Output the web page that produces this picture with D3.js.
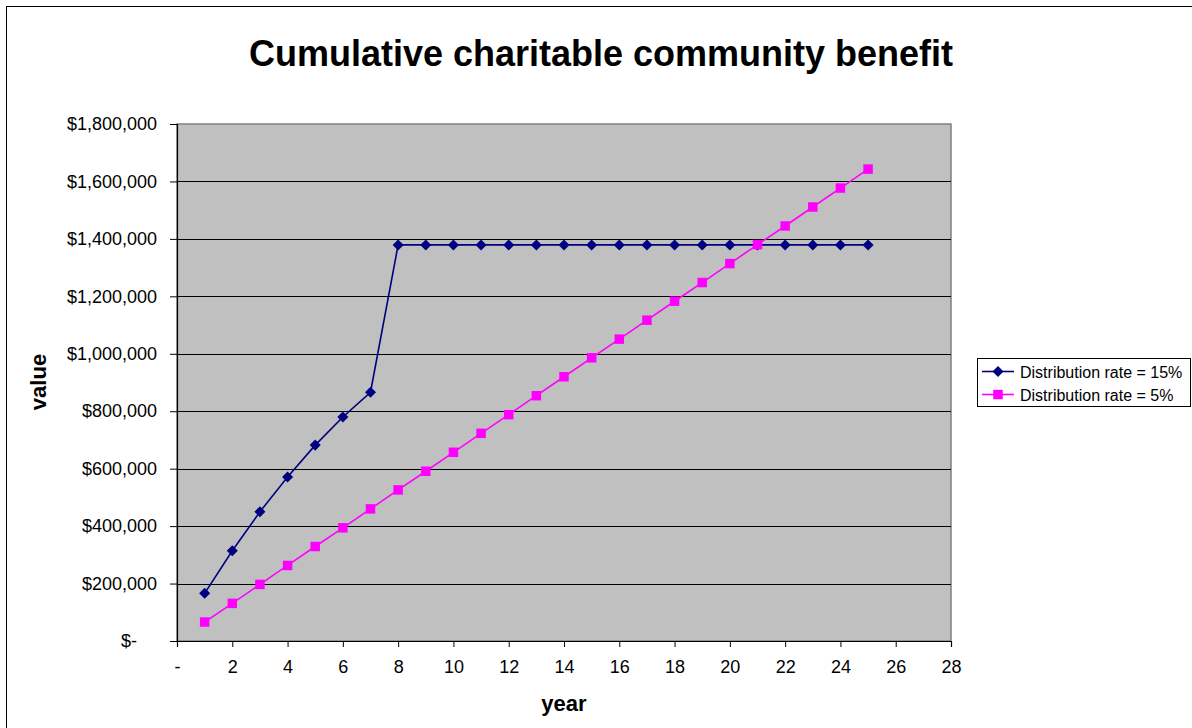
<!DOCTYPE html>
<html>
<head>
<meta charset="utf-8">
<script src="https://cdn.jsdelivr.net/npm/d3@7"></script>
<style>
  html, body { margin: 0; padding: 0; background: #fff; }
  svg { display: block; font-family: "Liberation Sans", Arial, sans-serif; }
</style>
</head>
<body>
<svg id="chart" width="1192" height="728"></svg>
<script>
// Years on the horizontal axis
const years = d3.range(1, 26);
// Cumulative benefit, distribution rate 15%
const rate15 = [166000, 314000, 450000, 571000, 682000, 780000, 866000,
  1379000, 1379000, 1379000, 1379000, 1379000, 1379000, 1379000, 1379000,
  1379000, 1379000, 1379000, 1379000, 1379000, 1379000, 1379000, 1379000,
  1379000, 1379000];
// Cumulative benefit, distribution rate 5%
const rate5 = [66000, 131000, 197000, 263000, 329000, 394000, 460000, 526000,
  591000, 657000, 723000, 788000, 854000, 920000, 986000, 1051000, 1117000,
  1183000, 1248000, 1314000, 1380000, 1445000, 1511000, 1577000, 1643000];
const seriesNames = ["Distribution rate = 15%", "Distribution rate = 5%"];
const xTicks = d3.range(0, 29, 2);
const yTicks = d3.range(0, 1800001, 200000);

const svg = d3.select("#chart");
const plot = { left: 177, top: 124, right: 951, bottom: 641 };
const FONT = "Liberation Sans, Arial, sans-serif";

const x = d3.scaleLinear().domain([0, 28]).range([plot.left, plot.right]);
const y = d3.scaleLinear().domain([0, 1800000]).range([plot.bottom, plot.top]);

// Outer chart frame
svg.append("rect")
  .attr("x", 6.5).attr("y", 6.5).attr("width", 1300).attr("height", 800)
  .attr("fill", "none").attr("stroke", "#000").attr("stroke-width", 1);

// Plot area background
svg.append("rect")
  .attr("x", plot.left).attr("y", plot.top)
  .attr("width", plot.right - plot.left).attr("height", plot.bottom - plot.top)
  .attr("fill", "#c0c0c0").attr("stroke", "#808080").attr("stroke-width", 1.5);

// Horizontal gridlines
svg.append("g").selectAll("line")
  .data(yTicks.filter(d => d > 0 && d < 1800000))
  .join("line")
  .attr("x1", plot.left).attr("x2", plot.right)
  .attr("y1", d => Math.round(y(d)) + 0.5).attr("y2", d => Math.round(y(d)) + 0.5)
  .attr("stroke", "#000").attr("stroke-width", 1);

// Y axis (accounting style: zero shown as "$-")
const money = d3.format("$,");
const yAxis = d3.axisLeft(y).tickValues(yTicks).tickSize(7).tickPadding(13)
  .tickFormat(d => d === 0 ? "$-" : money(d));
const gy = svg.append("g").attr("transform", `translate(${plot.left},0)`).call(yAxis);
gy.select(".domain").attr("stroke", "#000").attr("stroke-width", 1.2);
gy.selectAll(".tick line").attr("stroke", "#000");
gy.selectAll(".tick text").attr("font-size", 18).attr("fill", "#000")
  .attr("font-family", FONT)
  .attr("dx", d => d === 0 ? -20 : 0);

// X axis
const xAxis = d3.axisBottom(x).tickValues(xTicks).tickSize(6).tickPadding(13)
  .tickFormat(d => d === 0 ? "-" : d);
const gx = svg.append("g").attr("transform", `translate(0,${plot.bottom})`).call(xAxis);
gx.select(".domain").attr("stroke", "#000").attr("stroke-width", 1.2);
gx.selectAll(".tick line").attr("stroke", "#000");
gx.selectAll(".tick text").attr("font-size", 18).attr("fill", "#000")
  .attr("font-family", FONT);

// Series
const series = [
  { name: seriesNames[0], values: rate15, color: "#000080", shape: d3.symbolDiamond2, size: 78 },
  { name: seriesNames[1], values: rate5, color: "#ff00ff", shape: d3.symbolSquare, size: 90 }
];

const line = d3.line().x((d, i) => x(years[i])).y(d => y(d));

series.forEach(s => {
  svg.append("path")
    .attr("d", line(s.values))
    .attr("fill", "none").attr("stroke", s.color).attr("stroke-width", 1.6);
  svg.append("g").selectAll("path")
    .data(s.values)
    .join("path")
    .attr("transform", (d, i) => `translate(${x(years[i])},${y(d)})`)
    .attr("d", d3.symbol().type(s.shape).size(s.size))
    .attr("fill", s.color);
});

// Title
svg.append("text")
  .attr("x", 601).attr("y", 66)
  .attr("text-anchor", "middle")
  .attr("font-size", 36).attr("font-weight", "bold")
  .text("Cumulative charitable community benefit");

// Axis titles
svg.append("text")
  .attr("transform", "translate(46,382) rotate(-90)")
  .attr("text-anchor", "middle")
  .attr("font-size", 22).attr("font-weight", "bold")
  .text("value");
svg.append("text")
  .attr("x", 564).attr("y", 711)
  .attr("text-anchor", "middle")
  .attr("font-size", 22).attr("font-weight", "bold")
  .text("year");

// Legend
const legend = svg.append("g").attr("transform", "translate(977,358)");
legend.append("rect")
  .attr("x", 0.5).attr("y", 0.5).attr("width", 213).attr("height", 48)
  .attr("fill", "#fff").attr("stroke", "#000").attr("stroke-width", 1);
series.forEach((s, i) => {
  const cy = 13.5 + i * 23;
  legend.append("line")
    .attr("x1", 5).attr("x2", 37).attr("y1", cy).attr("y2", cy)
    .attr("stroke", s.color).attr("stroke-width", 1.6);
  legend.append("path")
    .attr("transform", `translate(21,${cy})`)
    .attr("d", d3.symbol().type(s.shape).size(s.size))
    .attr("fill", s.color);
  legend.append("text")
    .attr("x", 43).attr("y", cy + 6)
    .attr("font-size", 16)
    .text(s.name);
});
</script>
</body>
</html>
